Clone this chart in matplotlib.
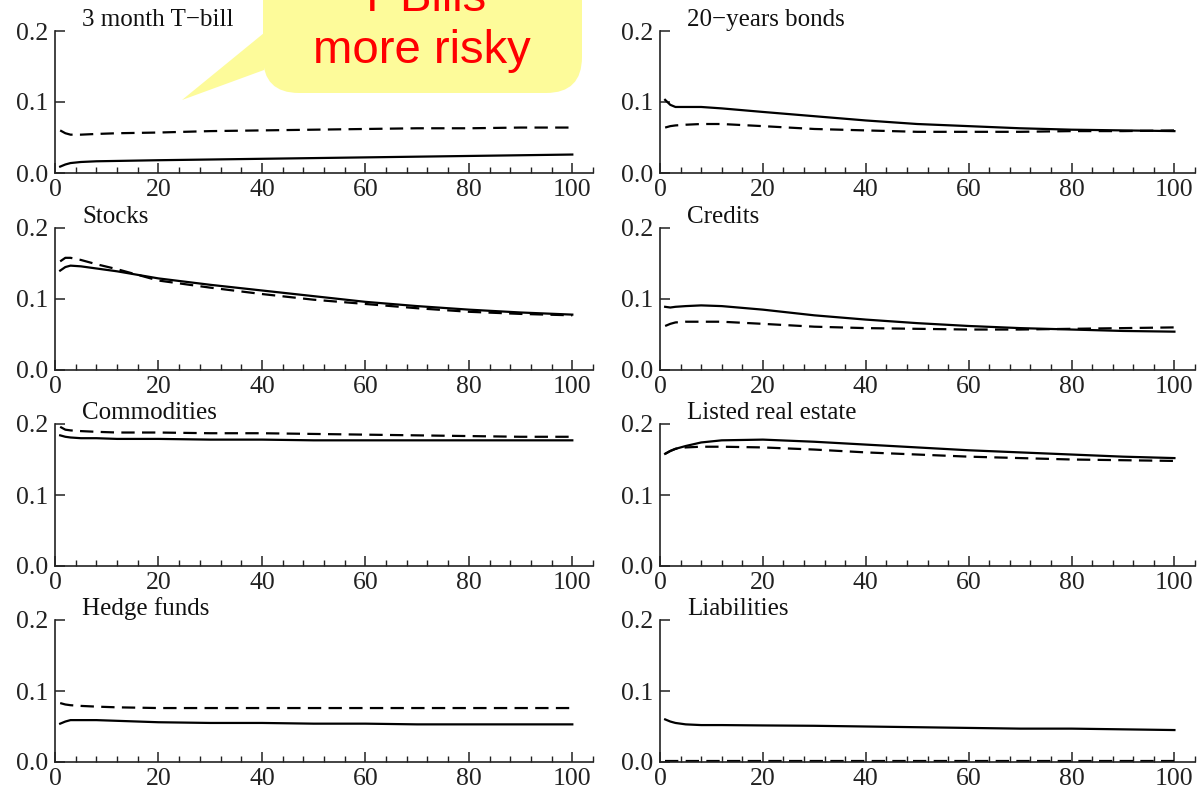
import numpy as np
import matplotlib.pyplot as plt
from matplotlib.patches import FancyBboxPatch, Polygon
from matplotlib.ticker import MultipleLocator

plt.rcParams['font.family'] = ['Liberation Serif', 'DejaVu Serif']

# Horizon (x) points at which the curves were read
horizon = [1, 2, 3, 5, 8, 12, 20, 30, 40, 50, 60, 70, 80, 90, 100]

titles = ['3 month T\u2212bill', '20\u2212years bonds', 'Stocks', 'Credits',
          'Commodities', 'Listed real estate', 'Hedge funds', 'Liabilities']

# solid curves
tbill_solid = [0.009, 0.012, 0.014, 0.0155, 0.0165, 0.017, 0.018, 0.019, 0.020, 0.021, 0.022, 0.023, 0.024, 0.025, 0.026]
bonds_solid = [0.103, 0.096, 0.093, 0.093, 0.093, 0.091, 0.086, 0.080, 0.074, 0.069, 0.066, 0.063, 0.061, 0.060, 0.059]
stocks_solid = [0.140, 0.145, 0.147, 0.146, 0.143, 0.139, 0.129, 0.120, 0.112, 0.104, 0.096, 0.090, 0.085, 0.081, 0.078]
credits_solid = [0.089, 0.088, 0.089, 0.090, 0.091, 0.090, 0.085, 0.077, 0.071, 0.066, 0.062, 0.059, 0.057, 0.055, 0.054]
commod_solid = [0.184, 0.182, 0.181, 0.180, 0.180, 0.179, 0.179, 0.178, 0.178, 0.177, 0.177, 0.177, 0.177, 0.177, 0.177]
realest_solid = [0.158, 0.162, 0.165, 0.169, 0.174, 0.177, 0.178, 0.175, 0.171, 0.167, 0.163, 0.160, 0.157, 0.154, 0.152]
hedge_solid = [0.054, 0.057, 0.059, 0.059, 0.059, 0.058, 0.056, 0.055, 0.055, 0.054, 0.054, 0.053, 0.053, 0.053, 0.053]
liab_solid = [0.060, 0.057, 0.055, 0.053, 0.052, 0.052, 0.0515, 0.051, 0.050, 0.049, 0.048, 0.047, 0.047, 0.046, 0.045]

# dashed curves
tbill_dash = [0.060, 0.056, 0.054, 0.054, 0.055, 0.056, 0.057, 0.059, 0.060, 0.061, 0.062, 0.063, 0.063, 0.064, 0.064]
bonds_dash = [0.064, 0.066, 0.067, 0.068, 0.069, 0.069, 0.066, 0.062, 0.060, 0.058, 0.058, 0.058, 0.059, 0.059, 0.060]
stocks_dash = [0.153, 0.158, 0.158, 0.155, 0.149, 0.142, 0.126, 0.116, 0.107, 0.099, 0.093, 0.087, 0.082, 0.079, 0.077]
credits_dash = [0.062, 0.065, 0.067, 0.068, 0.068, 0.068, 0.065, 0.061, 0.059, 0.058, 0.057, 0.057, 0.058, 0.059, 0.060]
commod_dash = [0.196, 0.192, 0.191, 0.190, 0.189, 0.188, 0.188, 0.187, 0.187, 0.186, 0.185, 0.184, 0.183, 0.182, 0.182]
realest_dash = [0.158, 0.162, 0.165, 0.167, 0.168, 0.168, 0.167, 0.164, 0.160, 0.157, 0.154, 0.152, 0.150, 0.149, 0.148]
hedge_dash = [0.083, 0.081, 0.080, 0.079, 0.078, 0.077, 0.076, 0.076, 0.076, 0.076, 0.076, 0.076, 0.076, 0.076, 0.076]
liab_dash = [0.001, 0.001, 0.001, 0.001, 0.001, 0.001, 0.001, 0.001, 0.001, 0.001, 0.001, 0.001, 0.001, 0.001, 0.001]

solids = [tbill_solid, bonds_solid, stocks_solid, credits_solid,
          commod_solid, realest_solid, hedge_solid, liab_solid]
dashes = [tbill_dash, bonds_dash, stocks_dash, credits_dash,
          commod_dash, realest_dash, hedge_dash, liab_dash]

W, H = 1200, 794
fig = plt.figure(figsize=(W / 100, H / 100), dpi=100)

# panel placement in pixels (left, right, bottom row line)
cols = [(55, 593), (660, 1195)]
rows = [173, 370, 566, 762]
ph = 142

for k in range(8):
    r, c = divmod(k, 2)
    x0, x1 = cols[c]
    ax = fig.add_axes([x0 / W, 1 - rows[r] / H, (x1 - x0) / W, ph / H])
    ax.plot(horizon, solids[k], color='black', lw=1.6)
    ax.plot(horizon, dashes[k], color='black', lw=1.6, dashes=(6, 3.3))
    ax.set_xlim(0, 104)
    ax.set_ylim(0, 0.2)
    ax.set_xticks([0, 20, 40, 60, 80, 100])
    ax.xaxis.set_minor_locator(MultipleLocator(4))
    ax.set_yticks([0, 0.1, 0.2])
    ax.set_yticklabels(['0.0', '0.1', '0.2'])
    ax.spines['top'].set_visible(False)
    ax.spines['right'].set_visible(False)
    for s in ['left', 'bottom']:
        ax.spines[s].set_linewidth(1.2)
        ax.spines[s].set_color('#222222')
    ax.tick_params(axis='both', which='major', direction='in', length=7, width=1.1,
                   labelsize=18.5, colors='#222222')
    ax.tick_params(axis='x', which='minor', direction='in', length=4, width=1.0, colors='#222222')
    ax.tick_params(axis='x', which='major', pad=4)
    ax.tick_params(axis='y', which='major', pad=5)
    ax.patch.set_alpha(0)
    ax.text(5.2, 1.035, titles[k], transform=ax.get_xaxis_transform(),
            fontsize=18, color='#111111', va='baseline', ha='left')

# speech bubble callout
def fx(px):
    return px / W

def fy(py):
    return 1 - py / H

bubble = FancyBboxPatch((fx(263), fy(93)), fx(582) - fx(263), fy(-60) - fy(93),
                        boxstyle='round,pad=0,rounding_size=0.03',
                        transform=fig.transFigure, facecolor='#fdfb9a',
                        edgecolor='none', zorder=5, mutation_aspect=W / H)
fig.add_artist(bubble)
tail = Polygon([(fx(264), fy(33)), (fx(182), fy(100)), (fx(264), fy(70))],
               closed=True, transform=fig.transFigure, facecolor='#fdfb9a',
               edgecolor='none', zorder=5)
fig.add_artist(tail)
# the first line is cut by the top edge, as in the original slide
fig.text(fx(422), fy(11), 'T-Bills', color='#ff0000', fontsize=34,
         family=['Liberation Sans', 'DejaVu Sans'], ha='center', va='baseline', zorder=6)
fig.text(fx(422), fy(63), 'more risky', color='#ff0000', fontsize=34,
         family=['Liberation Sans', 'DejaVu Sans'], ha='center', va='baseline', zorder=6)

fig.savefig('out.png', dpi=100)
